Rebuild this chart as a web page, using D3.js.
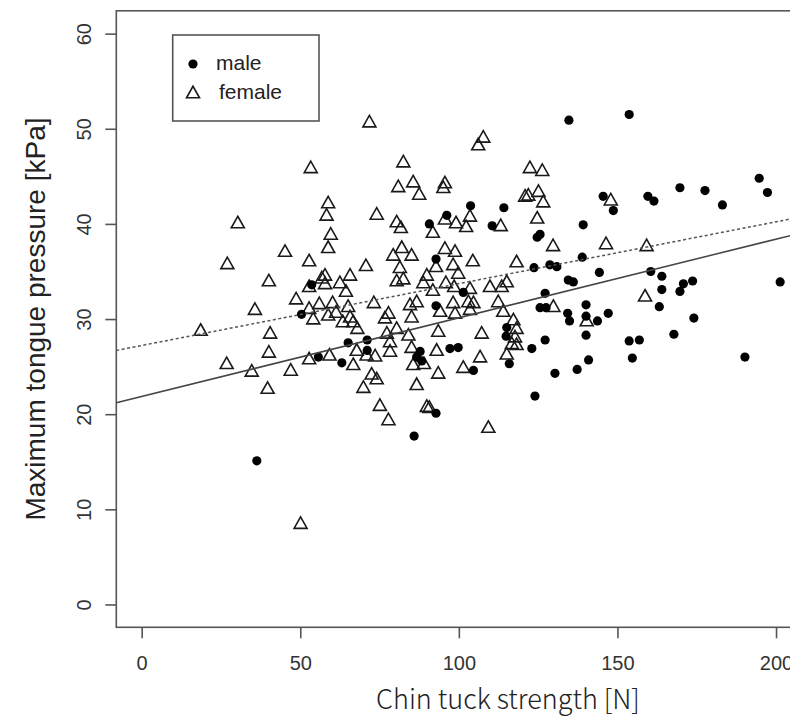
<!DOCTYPE html>
<html lang="en">
<head>
<meta charset="UTF-8">
<title>Chin tuck strength and tongue pressure</title>
<style>
body{margin:0;background:#fff;}
</style>
</head>
<body>
<script src="https://cdn.jsdelivr.net/npm/d3@7/dist/d3.min.js"></script>
<script>
// values
var maleStrength=[36.3,53.6,50.4,65.1,71.1,71.1,55.7,63.1,87.8,86.7,88.3,103.7,114.2,96.2,90.7,110.5,125.6,124.7,92.8,123.7,
	128.7,130.9,101.4,92.8,127.2,125.6,127.5,115.1,114.9,115.9,123.0,127.2,130.3,124.0,104.6,99.8,97.2,92.8,85.9,134.7,
	153.7,194.7,197.3,169.7,177.6,183.1,159.6,161.5,145.5,148.7,139.2,138.9,144.3,160.5,164.0,134.5,136.1,164.0,170.8,169.7,
	173.7,201.3,163.2,140.1,134.3,134.9,140.1,143.7,147.1,174.1,140.1,153.7,156.9,167.8,140.9,137.3,154.7,190.2];
var malePressure=[15.1,33.6,30.5,27.5,27.8,26.7,26.0,25.4,26.6,26.0,25.6,41.9,41.7,40.9,40.0,39.8,38.9,38.6,36.3,35.4,
	35.7,35.5,32.8,31.4,32.7,31.2,31.2,29.1,28.2,25.3,26.9,27.8,24.3,21.9,24.6,27.0,26.9,20.1,17.7,50.9,
	51.5,44.8,43.3,43.8,43.5,42.0,42.9,42.4,42.9,41.4,39.9,36.5,34.9,35.0,34.5,34.1,33.9,33.1,33.7,32.9,
	34.0,33.9,31.3,31.5,30.6,29.8,30.3,29.8,30.6,30.1,28.3,27.7,27.8,28.4,25.7,24.7,25.9,26.0];

var femaleStrength=[53.3,58.8,58.3,59.6,30.3,27.0,35.7,18.6,26.8,34.7,40.5,40.1,39.7,50.1,40.1,
	45.2,58.8,52.8,70.7,82.0,79.3,85.1,81.4,80.4,82.5,89.9,88.8,65.7,57.8,56.8,52.8,57.8,62.5,64.4,48.7,
	52.8,56.0,60.2,54.1,58.8,61.3,65.1,63.4,65.7,66.7,68.0,73.2,77.8,76.7,84.6,86.7,85.1,80.4,77.3,84.1,
	78.3,78.3,67.8,70.9,73.6,59.2,52.8,66.7,85.1,85.6,89.0,47.0,72.5,74.1,69.9,86.7,
	71.8,107.7,106.1,82.5,80.9,85.6,87.5,95.6,95.1,122.4,126.3,120.9,121.9,125.1,126.6,74.1,80.4,81.7,95.6,99.1,
	103.5,102.3,91.8,113.2,124.7,129.7,95.6,98.8,92.8,98.2,99.8,104.4,118.2,95.9,98.5,103.5,109.8,113.5,115.1,91.8,
	98.2,103.0,104.6,112.4,114.0,94.1,98.8,103.5,129.8,
	117.2,118.2,117.7,116.7,118.2,115.1,107.2,106.7,101.4,109.3,93.5,89.9,90.7,77.8,75.1,93.0,93.5,
	147.9,146.4,159.2,158.7,140.3];
var femalePressure=[46.0,42.3,41.0,39.0,40.2,35.9,31.1,28.9,25.4,24.6,28.6,26.6,22.8,8.6,34.1,
	37.2,37.6,36.2,35.7,37.6,36.8,36.8,35.5,34.1,34.3,34.7,33.9,34.7,34.7,34.4,33.5,33.8,33.9,33.0,32.2,
	31.2,31.7,31.8,30.1,30.5,30.8,31.4,29.8,30.3,29.8,29.1,31.8,30.7,30.2,31.6,31.9,30.3,29.1,28.6,28.4,
	27.7,26.7,26.8,26.3,26.2,26.3,25.9,25.3,27.1,25.3,25.4,24.7,24.3,23.8,22.9,23.2,
	50.8,49.2,48.4,46.6,44.0,44.5,43.2,44.4,43.9,46.0,45.7,43.0,43.1,43.5,42.4,41.1,40.3,39.7,40.6,40.2,
	40.9,39.8,39.2,39.9,40.7,37.8,37.5,37.2,35.6,35.8,34.9,36.2,36.1,33.9,33.5,33.3,33.5,33.5,34.0,33.1,
	31.8,31.9,31.8,31.9,30.9,30.9,30.7,31.1,31.4,
	30.0,29.1,28.2,27.5,27.4,26.4,28.6,26.1,25.0,18.7,24.4,20.9,20.8,19.5,21.0,26.8,28.8,
	42.6,38.0,37.8,32.5,29.9];

// regression lines: [intercept, slope]
var maleFit=[21.86,0.0827];
var femaleFit=[27.22,0.065];

var xTicks=[0,50,100,150,200];
var yTicks=[0,10,20,30,40,50,60];
var legendLabels=['male','female'];
var xTitle='Chin tuck strength [N]';
var yTitle='Maximum tongue pressure [kPa]';

var width=790;
var height=718;

var svg=d3.select('body')
		.append('svg')
		.attr('width',width)
		.attr('height',height);

var xScale=d3.scaleLinear()
		.domain([-8,208])
		.range([116.3,801.4]);
var yScale=d3.scaleLinear()
		.domain([-2.4,62.4])
		.range([627.3,10.8]);

var x0=xScale.range()[0],x1=xScale.range()[1];
var yTop=yScale.range()[1],yBottom=yScale.range()[0];

svg.append('clipPath')
	.attr('id','plotclip')
	.append('rect')
	.attr('x',x0).attr('y',yTop)
	.attr('width',x1-x0).attr('height',yBottom-yTop);

// axes
var xAxis=d3.axisBottom(xScale).tickValues(xTicks).tickSize(11).tickFormat(d3.format('d'));
var gx=svg.append('g')
	.attr('transform','translate(0,'+yBottom+')')
	.call(xAxis);
gx.select('.domain').remove();
gx.selectAll('line').attr('stroke','#555').attr('stroke-width',1.6);
gx.selectAll('text')
	.attr('y',36)
	.attr('dy','0.35em')
	.attr('fill','#333')
	.style('font-family','"Liberation Sans", Arial, sans-serif')
	.style('font-size','20px');

var yAxis=d3.axisLeft(yScale).tickValues(yTicks).tickSize(11).tickFormat(d3.format('d'));
var gy=svg.append('g')
	.attr('transform','translate('+x0+',0)')
	.call(yAxis);
gy.select('.domain').remove();
gy.selectAll('line').attr('stroke','#555').attr('stroke-width',1.6);
gy.selectAll('text')
	.attr('x',0)
	.attr('dy','0.35em')
	.attr('text-anchor','middle')
	.attr('transform','translate(-32,0) rotate(-90)')
	.attr('fill','#333')
	.style('font-family','"Liberation Sans", Arial, sans-serif')
	.style('font-size','20px');

// box
svg.append('rect')
	.attr('x',x0).attr('y',yTop)
	.attr('width',x1-x0).attr('height',yBottom-yTop)
	.attr('fill','none')
	.attr('stroke','#555')
	.attr('stroke-width',1.6);

function triPath(w,h){
	return 'M0,'+(-h/2)+'L'+(w/2)+','+(h/2)+'L'+(-w/2)+','+(h/2)+'Z';
}

var plot=svg.append('g').attr('clip-path','url(#plotclip)');

// female: open triangles
plot.selectAll('.female')
	.data(femaleStrength)
	.enter()
	.append('path')
	.attr('class','female')
	.attr('d',triPath(13,11.5))
	.attr('transform',function(d,i){
		return 'translate('+xScale(d)+','+yScale(femalePressure[i])+')';
	})
	.attr('fill','none')
	.attr('stroke','#1a1a1a')
	.attr('stroke-width',1.6);

// male: filled dots
plot.selectAll('.male')
	.data(maleStrength)
	.enter()
	.append('circle')
	.attr('class','male')
	.attr('cx',function(d){ return xScale(d); })
	.attr('cy',function(d,i){ return yScale(malePressure[i]); })
	.attr('r',4.6)
	.attr('fill','#000');

// fit lines
function fitLine(fit){
	var xs=xScale.domain();
	return [[xs[0],fit[0]+fit[1]*xs[0]],[xs[1],fit[0]+fit[1]*xs[1]]];
}
var line=d3.line()
	.x(function(d){ return xScale(d[0]); })
	.y(function(d){ return yScale(d[1]); });

plot.append('path')
	.attr('d',line(fitLine(maleFit)))
	.attr('fill','none')
	.attr('stroke','#444')
	.attr('stroke-width',1.5);
plot.append('path')
	.attr('d',line(fitLine(femaleFit)))
	.attr('fill','none')
	.attr('stroke','#555')
	.attr('stroke-width',1.5)
	.attr('stroke-dasharray','3,2.5');

// axis titles
svg.append('text')
	.attr('x',508)
	.attr('y',700)
	.attr('dy','0.35em')
	.attr('text-anchor','middle')
	.attr('fill','#222')
	.style('font-family','"Noto Sans CJK JP", sans-serif')
	.style('font-weight',300)
	.style('font-size','27px')
	.text(xTitle);

svg.append('text')
	.attr('transform','translate(35,'+((yTop+yBottom)/2)+') rotate(-90)')
	.attr('dy','0.35em')
	.attr('text-anchor','middle')
	.attr('fill','#222')
	.style('font-family','"Liberation Sans", Arial, sans-serif')
	.style('font-size','28px')
	.text(yTitle);

// legend
var legend=svg.append('g');
legend.append('rect')
	.attr('x',172.7).attr('y',35)
	.attr('width',146.3).attr('height',86)
	.attr('fill','#fff')
	.attr('stroke','#555')
	.attr('stroke-width',1.6);
legend.append('circle')
	.attr('cx',193).attr('cy',64)
	.attr('r',4.6)
	.attr('fill','#000');
legend.append('path')
	.attr('d',triPath(13,11.5))
	.attr('transform','translate(193,92)')
	.attr('fill','none')
	.attr('stroke','#1a1a1a')
	.attr('stroke-width',1.6);
legend.selectAll('.legtext')
	.data(legendLabels)
	.enter()
	.append('text')
	.attr('class','legtext')
	.attr('x',function(d,i){ return i==0?216:219; })
	.attr('y',function(d,i){ return i==0?70:99; })
	.attr('fill','#222')
	.style('font-family','"Liberation Sans", Arial, sans-serif')
	.style('font-size','21px')
	.text(function(d){ return d; });
</script>
</body>
</html>
